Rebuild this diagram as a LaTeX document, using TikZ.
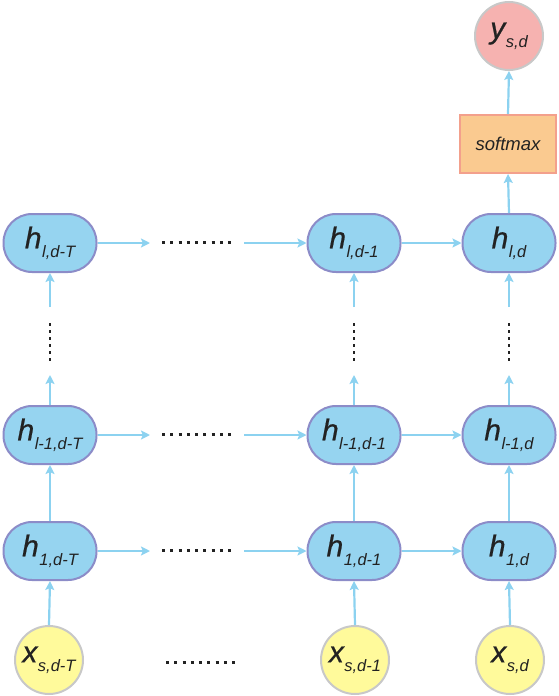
\documentclass[tikz,border=0pt]{standalone}
\usepackage{fontspec}
\setmainfont{Liberation Sans}
\newfontfamily\mainletter{Liberation Sans}[FakeBold=0.6]
\usetikzlibrary{arrows.meta}
\definecolor{hfill}{RGB}{150,212,240}
\definecolor{hborder}{RGB}{140,140,200}
\definecolor{arrcol}{RGB}{140,210,240}
\definecolor{xfill}{RGB}{255,250,155}
\definecolor{cborder}{RGB}{200,200,200}
\definecolor{yfill}{RGB}{246,178,176}
\definecolor{sfill}{RGB}{250,202,144}
\definecolor{sborder}{RGB}{243,160,140}
\definecolor{txt}{RGB}{34,34,34}
\newcommand{\mylab}[2]{{\color{txt}\fontsize{30}{30}\mainletter\itshape #1\kern0.5pt\raisebox{-9pt}{\fontsize{16.5}{16.5}\normalfont\itshape #2}}}
\begin{document}
\begin{tikzpicture}[x=1pt,y=-1pt,
  hnode/.style={draw=hborder, fill=hfill, line width=2pt, rounded corners=28.5pt, minimum width=93pt, minimum height=58pt, inner sep=0pt},
  xnode/.style={circle, draw=cborder, fill=xfill, line width=2pt, minimum size=68pt, inner sep=0pt},
  ynode/.style={circle, draw=cborder, fill=yfill, line width=2pt, minimum size=68pt, inner sep=0pt},
  snode/.style={draw=sborder, fill=sfill, line width=2pt, minimum width=96pt, minimum height=58pt, inner sep=0pt},
  arr/.style={draw=arrcol, line width=2.2pt, -{Stealth[length=9pt,width=9pt,inset=1.8pt]}},
  hdots/.style={draw=txt, line width=3pt, dash pattern=on 3pt off 5.25pt},
  vdots/.style={draw=txt, line width=2.8pt, dash pattern=on 2.8pt off 4.2pt}]
\useasboundingbox (0,0) rectangle (558,696);

% columns 50, 354, 509 ; rows 243, 435, 551
\node[hnode] (hlT) at (50,243) {\mylab{h}{l,d-T}};
\node[hnode] (hl1) at (354,243) {\mylab{h}{l,d-1}};
\node[hnode] (hl0) at (509,243) {\mylab{h}{l,d}};

\node[hnode] (hmT) at (50,435) {\mylab{h}{l-1,d-T}};
\node[hnode] (hm1) at (354,435) {\mylab{h}{l-1,d-1}};
\node[hnode] (hm0) at (509,435) {\mylab{h}{l-1,d}};

\node[hnode] (hoT) at (50,551) {\mylab{h}{1,d-T}};
\node[hnode] (ho1) at (354,551) {\mylab{h}{1,d-1}};
\node[hnode] (ho0) at (509,551) {\mylab{h}{1,d}};

\node[xnode] (xT) at (49,660) {\mylab{x}{s,d-T}};
\node[xnode] (x1) at (355,660) {\mylab{x}{s,d-1}};
\node[xnode] (x0) at (510,660) {\mylab{x}{s,d}};

\node[snode] (sm) at (508,144) {{\color{txt}\fontsize{18.5}{18.5}\selectfont\itshape softmax}};
\node[ynode] (y) at (509,36) {\mylab{y}{s,d}};

% horizontal connectors with dots
\foreach \r/\A/\B/\C/\yy in {l/hlT/hl1/hl0/243, m/hmT/hm1/hm0/435, o/hoT/ho1/ho0/551}{
  \coordinate (a\r) at (150,\yy);
  \coordinate (b\r) at (244,\yy);
  \coordinate (d\r s) at (162,\yy-1);
  \coordinate (d\r e) at (234,\yy-1);
  \draw[arr] (\A.east) -- (a\r);
  \draw[hdots] (d\r s) -- (d\r e);
  \draw[arr] (b\r) -- (\B.west);
  \draw[arr] (\B.east) -- (\C.west);
}
\coordinate (bds) at (166,662);
\coordinate (bde) at (238,662);
\draw[hdots] (bds) -- (bde);

% vertical connectors with dots
\foreach \c/\U/\M/\xx in {T/hlT/hmT/50, 1/hl1/hm1/354, 0/hl0/hm0/509}{
  \coordinate (vt\c) at (\xx,307);
  \coordinate (vb\c) at (\xx,375);
  \coordinate (vs\c) at (\xx,323);
  \coordinate (ve\c) at (\xx,362);
  \draw[arr] (vt\c) -- (\U.south);
  \draw[vdots] (vs\c) -- (ve\c);
  \draw[arr] (\M.north) -- (vb\c);
}
\draw[arr] (hoT.north) -- (hmT.south);
\draw[arr] (ho1.north) -- (hm1.south);
\draw[arr] (ho0.north) -- (hm0.south);

\draw[arr] (xT.north) -- (hoT.south);
\draw[arr] (x1.north) -- (ho1.south);
\draw[arr] (x0.north) -- (ho0.south);

\draw[arr] (hl0.north) -- (sm.south);
\draw[arr] (sm.north) -- (y.south);
\end{tikzpicture}
\end{document}
